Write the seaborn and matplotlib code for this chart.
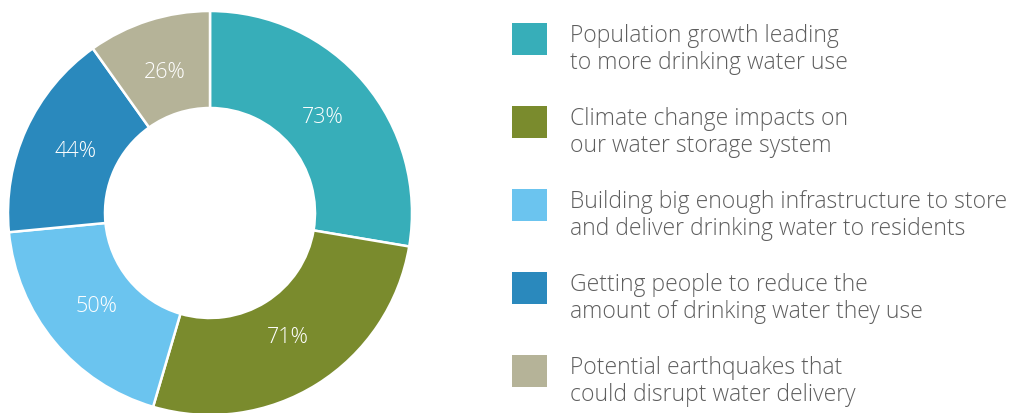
import matplotlib
matplotlib.use("Agg")
import matplotlib.pyplot as plt
import seaborn as sns
import numpy as np
from matplotlib.patches import Rectangle

categories = [
    "Population growth leading\nto more drinking water use",
    "Climate change impacts on\nour water storage system",
    "Building big enough infrastructure to store\nand deliver drinking water to residents",
    "Getting people to reduce the\namount of drinking water they use",
    "Potential earthquakes that\ncould disrupt water delivery",
]
values = [73, 71, 50, 44, 26]
labels = ["73%", "71%", "50%", "44%", "26%"]
colors = ["#37AEB9", "#7A8B2D", "#6BC4EF", "#2A89BD", "#B5B398"]

sns.set_theme(style="white")
plt.rcParams['font.family'] = ['Open Sans', 'DejaVu Sans']
palette = sns.color_palette(colors)

W, H = 1012, 413
fig = plt.figure(figsize=(W / 100, H / 100), dpi=100)
fig.patch.set_facecolor("white")

cx, cy, R = 210, 213, 202
ax = fig.add_axes([(cx - R) / W, (H - cy - R) / H, 2 * R / W, 2 * R / H])
wedges, texts = ax.pie(values, colors=palette, startangle=90, counterclock=False,
                       radius=1, wedgeprops=dict(width=97 / 202, edgecolor="white", linewidth=1.8))
total = sum(values)
cum = 0
for v, lab in zip(values, labels):
    mid = 90 - (cum + v / 2) / total * 360
    cum += v
    r = 0.73
    ax.text(r * np.cos(np.radians(mid)), r * np.sin(np.radians(mid)), lab,
            ha="center", va="center", color="white", fontsize=15.5, fontweight="light")
ax.set_xlim(-1, 1)
ax.set_ylim(-1, 1)
ax.set_aspect("equal")
ax.axis("off")

# legend
for i, (cat, col) in enumerate(zip(categories, palette)):
    sq_top = 23 + i * 83
    fig.patches.append(Rectangle((512 / W, 1 - (sq_top + 32) / H), 35 / W, 32 / H,
                                 transform=fig.transFigure, facecolor=col, edgecolor="none"))
    for j, line in enumerate(cat.split("\n")):
        base = 42 + i * 83 + j * 27
        fig.text(570 / W, 1 - base / H, line, ha="left", va="baseline",
                 color="#5e5e5e", fontsize=16.5, fontweight="light")

fig.savefig("out.png", dpi=100, facecolor="white")
